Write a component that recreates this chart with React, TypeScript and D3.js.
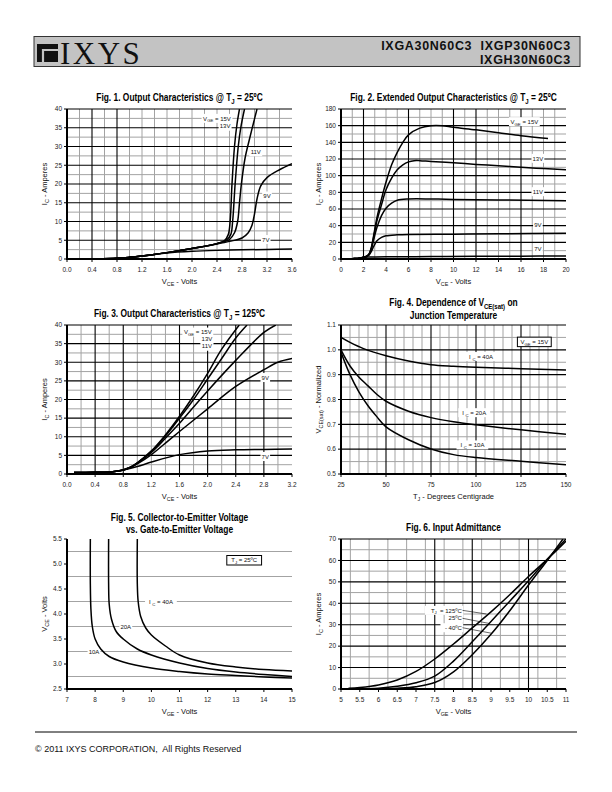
import React from "react";
import * as d3 from "d3";

type Pt = [number, number];
type Seg = { t: string; sub?: boolean };

// ---------------- Fig. 1 : Output characteristics @ 25C ----------------
const f1Vce15: Pt[] = [[0, 0], [0.4, 0.05], [0.8, 0.2], [1.0, 0.45], [1.2, 0.8], [1.6, 1.7], [2.0, 2.8], [2.4, 4.1], [2.52, 4.9], [2.58, 6.5], [2.61, 10], [2.64, 20], [2.68, 30], [2.72, 36], [2.76, 40]];
const f1Vce13: Pt[] = [[0, 0], [0.4, 0.05], [0.8, 0.2], [1.0, 0.45], [1.2, 0.8], [1.6, 1.7], [2.0, 2.8], [2.4, 4.1], [2.55, 5], [2.62, 6.5], [2.65, 10], [2.69, 20], [2.74, 30], [2.78, 35], [2.84, 40]];
const f1Vce11: Pt[] = [[0, 0], [0.4, 0.05], [0.8, 0.2], [1.0, 0.45], [1.2, 0.8], [1.6, 1.7], [2.0, 2.8], [2.4, 4.1], [2.6, 5.2], [2.68, 7], [2.73, 10], [2.76, 15], [2.79, 20], [2.85, 27], [2.92, 32], [2.98, 36], [3.04, 40]];
const f1Vce9: Pt[] = [[0, 0], [0.4, 0.05], [0.8, 0.2], [1.0, 0.45], [1.2, 0.8], [1.6, 1.7], [2.0, 2.8], [2.4, 4.0], [2.6, 4.7], [2.8, 5.6], [2.9, 7], [2.96, 9], [3.0, 12], [3.04, 16], [3.1, 19.5], [3.2, 21.7], [3.4, 23.8], [3.6, 25.4]];
const f1Vce7: Pt[] = [[0, 0], [0.4, 0.05], [0.8, 0.2], [1.0, 0.45], [1.2, 0.8], [1.6, 1.6], [2.0, 2.05], [2.4, 2.3], [2.8, 2.45], [3.2, 2.55], [3.6, 2.65]];
const f1XTicks = [0, 0.4, 0.8, 1.2, 1.6, 2.0, 2.4, 2.8, 3.2, 3.6];
const f1YTicks = [0, 5, 10, 15, 20, 25, 30, 35, 40];

// ---------------- Fig. 2 : Extended output characteristics ----------------
const f2Vge15: Pt[] = [[0.7, 0], [1.2, 0.5], [1.6, 1], [2, 2], [2.3, 3.5], [2.5, 6], [2.7, 14], [2.9, 28], [3.2, 50], [3.6, 72], [4, 92], [4.5, 113], [5, 128], [5.5, 140], [6, 149], [7, 157], [8, 160], [9, 160], [10, 158], [12, 155], [14, 151.5], [16, 148], [18.4, 144.5]];
const f2Vge13: Pt[] = [[0.7, 0], [1.2, 0.5], [1.6, 1], [2, 2], [2.3, 3.5], [2.5, 6], [2.7, 13], [2.9, 26], [3.2, 46], [3.6, 65], [4, 83], [4.5, 97], [5, 107], [5.5, 113], [6, 116.5], [6.5, 118], [7, 118], [8, 117], [10, 115.5], [12, 113.5], [14, 112], [16, 110], [18, 108.5], [20, 107]];
const f2Vge11: Pt[] = [[0.7, 0], [1.2, 0.5], [1.6, 1], [2, 2], [2.3, 3.5], [2.5, 5.5], [2.7, 12], [2.9, 23], [3.2, 38], [3.6, 52], [4, 61], [4.5, 67], [5, 70.5], [6, 72], [8, 72], [10, 71.5], [14, 70.8], [20, 70]];
const f2Vge9: Pt[] = [[0.7, 0], [1.2, 0.5], [1.6, 1], [2, 2], [2.3, 3.5], [2.5, 5], [2.7, 9], [2.9, 15], [3.2, 22], [3.6, 26], [4, 27.8], [5, 29], [6, 29.5], [10, 29.8], [14, 30.2], [20, 31]];
const f2Vge7: Pt[] = [[0.7, 0], [1.2, 0.5], [1.6, 1], [2, 1.8], [2.4, 2.3], [3, 2.5], [4, 2.6], [8, 2.9], [12, 3.2], [16, 3.4], [20, 3.6]];
const f2XTicks = [0, 2, 4, 6, 8, 10, 12, 14, 16, 18, 20];
const f2YTicks = [0, 20, 40, 60, 80, 100, 120, 140, 160, 180];

// ---------------- Fig. 3 : Output characteristics @ 125C ----------------
const f3Vge15: Pt[] = [[0.1, 0.4], [0.4, 0.45], [0.6, 0.55], [0.7, 0.75], [0.8, 1.1], [0.9, 1.8], [1.0, 3], [1.2, 6.2], [1.4, 10.5], [1.6, 15.5], [1.8, 21], [2.0, 27], [2.2, 33.5], [2.45, 40]];
const f3Vge13: Pt[] = [[0.1, 0.4], [0.4, 0.45], [0.6, 0.55], [0.7, 0.75], [0.8, 1.1], [0.9, 1.8], [1.0, 3], [1.2, 6], [1.4, 10.2], [1.6, 15], [1.8, 20], [2.0, 25.5], [2.2, 31], [2.4, 36.5], [2.56, 40]];
const f3Vge11: Pt[] = [[0.1, 0.4], [0.4, 0.45], [0.6, 0.55], [0.7, 0.75], [0.8, 1.1], [0.9, 1.75], [1.0, 2.9], [1.2, 5.8], [1.4, 9.6], [1.6, 13.6], [1.8, 18], [2.0, 22.3], [2.4, 30.5], [2.8, 38], [2.97, 40]];
const f3Vge9: Pt[] = [[0.1, 0.4], [0.4, 0.45], [0.6, 0.55], [0.7, 0.75], [0.8, 1.1], [0.9, 1.7], [1.0, 2.7], [1.2, 5.2], [1.4, 8.3], [1.6, 11.4], [2.0, 17.5], [2.4, 23.5], [2.8, 28], [3.0, 30], [3.2, 31]];
const f3Vge7: Pt[] = [[0.1, 0.4], [0.4, 0.45], [0.6, 0.55], [0.7, 0.75], [0.8, 1.05], [1.0, 2], [1.2, 3.2], [1.6, 5.2], [2.0, 6.2], [2.4, 6.5], [2.8, 6.6], [3.2, 6.7]];
const f3XTicks = [0, 0.4, 0.8, 1.2, 1.6, 2.0, 2.4, 2.8, 3.2];
const f3YTicks = [0, 5, 10, 15, 20, 25, 30, 35, 40];

// ---------------- Fig. 4 : VCE(sat) vs junction temperature ----------------
const f4Ic40: Pt[] = [[25, 1.05], [30, 1.03], [37.5, 1.005], [50, 0.976], [62.5, 0.955], [75, 0.94], [87.5, 0.934], [100, 0.93], [125, 0.924], [150, 0.919]];
const f4Ic20: Pt[] = [[25, 1.0], [30, 0.935], [35, 0.89], [40, 0.855], [45, 0.82], [50, 0.793], [62.5, 0.753], [75, 0.727], [87.5, 0.71], [100, 0.698], [125, 0.678], [150, 0.66]];
const f4Ic10: Pt[] = [[25, 0.99], [30, 0.9], [35, 0.83], [40, 0.775], [45, 0.73], [50, 0.69], [62.5, 0.638], [75, 0.601], [87.5, 0.578], [100, 0.566], [125, 0.551], [150, 0.537]];
const f4XTicks = [25, 50, 75, 100, 125, 150];
const f4YTicks = [0.5, 0.6, 0.7, 0.8, 0.9, 1.0, 1.1];

// ---------------- Fig. 5 : VCE vs VGE ----------------
const f5Ic10: Pt[] = [[7.83, 5.5], [7.83, 4.6], [7.85, 4.1], [7.9, 3.75], [8.0, 3.5], [8.2, 3.3], [8.5, 3.15], [9, 3.04], [10, 2.92], [11, 2.85], [12, 2.8], [13, 2.77], [14, 2.74], [15, 2.72]];
const f5Ic20: Pt[] = [[8.48, 5.5], [8.48, 4.6], [8.5, 4.2], [8.58, 3.9], [8.75, 3.65], [9, 3.5], [9.5, 3.3], [10, 3.18], [11, 3.02], [12, 2.91], [13, 2.84], [14, 2.79], [15, 2.75]];
const f5Ic40: Pt[] = [[9.5, 5.5], [9.5, 4.6], [9.53, 4.25], [9.62, 3.95], [9.8, 3.72], [10, 3.58], [10.5, 3.36], [11, 3.18], [12, 3.02], [13, 2.94], [14, 2.89], [15, 2.86]];
const f5XTicks = [7, 8, 9, 10, 11, 12, 13, 14, 15];
const f5YTicks = [2.5, 3.0, 3.5, 4.0, 4.5, 5.0, 5.5];

// ---------------- Fig. 6 : Input admittance ----------------
const f6T125: Pt[] = [[5.2, 0.3], [5.5, 0.7], [6, 1.9], [6.5, 4.2], [7, 8.2], [7.5, 14], [8, 21], [8.5, 28.5], [9, 36], [9.5, 44], [10, 52.5], [10.5, 60.5], [11, 69]];
const f6T25: Pt[] = [[5.5, 0.1], [6, 0.4], [6.5, 1.3], [7, 2.9], [7.5, 6], [8, 13], [8.5, 22], [9, 31.5], [9.5, 41], [10, 50.5], [10.5, 60.5], [11, 70]];
const f6Tm40: Pt[] = [[6, 0.1], [6.5, 0.4], [7, 1.1], [7.5, 3], [8, 8], [8.5, 16], [9, 25.5], [9.5, 36.5], [10, 48.5], [10.5, 60], [10.92, 70]];
const f6XTicks = [5, 5.5, 6, 6.5, 7, 7.5, 8, 8.5, 9, 9.5, 10, 10.5, 11];
const f6YTicks = [0, 10, 20, 30, 40, 50, 60, 70];

// ------------------------------------------------------------------
const SANS = "'Liberation Sans', Arial, Helvetica, sans-serif";

const range = (a: number, b: number, s: number) => {
  const out: number[] = [];
  for (let v = a; v <= b + 1e-9; v += s) out.push(Math.round(v * 1000) / 1000);
  return out;
};
const without = (arr: number[], ex: number[]) => arr.filter((v) => !ex.some((e) => Math.abs(e - v) < 1e-6));

function Rich(props: {
  segs: Seg[]; x: number; y: number; size: number; anchor?: string; bold?: boolean;
  transform?: string; font?: string; fill?: string;
}) {
  const { segs, x, y, size, anchor = "start", bold, transform, font = SANS, fill = "#111" } = props;
  let shifted = false;
  const parts = segs.map((s, i) => {
    let dy = 0;
    if (s.sub && !shifted) { dy = size * 0.3; shifted = true; }
    else if (!s.sub && shifted) { dy = -size * 0.3; shifted = false; }
    return (
      <tspan key={i} dy={dy || undefined} fontSize={s.sub ? size * 0.72 : size}>{s.t}</tspan>
    );
  });
  return (
    <text x={x} y={y} textAnchor={anchor as any} fontSize={size} fontFamily={font}
      fontWeight={bold ? "bold" : "normal"} fill={fill} transform={transform}
      style={{ whiteSpace: "pre" }}>{parts}</text>
  );
}

type Label = { x: number; y: number; segs: Seg[]; anchor?: "start" | "middle" | "end"; bg?: boolean; box?: boolean };

type ChartProps = {
  id: string;
  left: number; top: number; width: number; height: number;
  xDomain: [number, number]; yDomain: [number, number];
  xTicks: number[]; yTicks: number[];
  xFmt: (v: number) => string; yFmt: (v: number) => string;
  xMinor: number[]; xMajor: number[]; yMinor: number[]; yMajor: number[];
  topLine: boolean;
  series: Pt[][];
  labels: Label[];
  leaders?: Pt[][];
  title: Seg[][]; titleY: number[];
  xTitle: Seg[]; yTitle: Seg[];
};

function segLen(segs: Seg[], size: number) {
  return segs.reduce((a, s) => a + s.t.length * (s.sub ? 0.72 : 1) * size * 0.55, 0);
}

function Chart(p: ChartProps) {
  const x = d3.scaleLinear().domain(p.xDomain).range([p.left, p.left + p.width]);
  const y = d3.scaleLinear().domain(p.yDomain).range([p.top + p.height, p.top]);
  const line = d3.line<Pt>().x((d) => x(d[0])).y((d) => y(d[1])).curve(d3.curveCatmullRom.alpha(0.5));
  const bottom = p.top + p.height;
  const right = p.left + p.width;
  const cx = p.left + p.width / 2;
  const ls = 6;
  const gray = "#a3a3a3";
  return (
    <g>
      <defs>
        <clipPath id={p.id}>
          <rect x={p.left} y={p.top} width={p.width} height={p.height} />
        </clipPath>
      </defs>
      {p.title.map((segs, i) => (
        <Rich key={i} segs={segs} x={0} y={0} size={10.5} anchor="middle" bold fill="#000"
          transform={`translate(${cx},${p.titleY[i]}) scale(0.8,1)`} />
      ))}
      {/* grid */}
      {p.xMinor.map((v) => (
        <line key={"xm" + v} x1={x(v)} x2={x(v)} y1={p.top} y2={bottom} stroke={gray} strokeWidth={1} />
      ))}
      {p.yMinor.map((v) => (
        <line key={"ym" + v} x1={p.left} x2={right} y1={y(v)} y2={y(v)} stroke={gray} strokeWidth={1} />
      ))}
      {p.xMajor.map((v) => (
        <line key={"xM" + v} x1={x(v)} x2={x(v)} y1={p.top} y2={bottom} stroke="#000" strokeWidth={1.1} />
      ))}
      {p.yMajor.map((v) => (
        <line key={"yM" + v} x1={p.left} x2={right} y1={y(v)} y2={y(v)} stroke="#000" strokeWidth={1.1} />
      ))}
      {p.topLine && <line x1={p.left} x2={right} y1={p.top} y2={p.top} stroke="#000" strokeWidth={1.1} />}
      {/* label backgrounds */}
      {p.labels.map((l, i) => {
        if (!l.bg && !l.box) return null;
        const w = segLen(l.segs, ls) + (l.box ? 6 : 3);
        const px = x(l.x);
        const x0 = l.anchor === "start" ? px - 1.5 : l.anchor === "end" ? px - w + 1.5 : px - w / 2;
        return (
          <rect key={"bg" + i} x={x0} y={y(l.y) - 4.5} width={w} height={l.box ? 9.5 : 9} fill="#fff"
            stroke={l.box ? "#000" : "none"} strokeWidth={1} />
        );
      })}
      {(p.leaders || []).map((ld, i) => (
        <path key={"ld" + i} d={d3.line<Pt>().x((d) => x(d[0])).y((d) => y(d[1]))(ld) || ""} stroke="#000" strokeWidth={0.6} fill="none" />
      ))}
      {/* curves */}
      <g clipPath={`url(#${p.id})`}>
        {p.series.map((s, i) => (
          <path key={"s" + i} d={line(s) || ""} fill="none" stroke="#000" strokeWidth={1.5} strokeLinejoin="round" />
        ))}
      </g>
      {/* axes */}
      <line x1={p.left} x2={p.left} y1={p.top} y2={bottom + 1} stroke="#000" strokeWidth={2} />
      <line x1={p.left - 1} x2={right} y1={bottom} y2={bottom} stroke="#000" strokeWidth={2} />
      {p.xTicks.map((v) => (
        <g key={"xt" + v}>
          <line x1={x(v)} x2={x(v)} y1={bottom} y2={bottom + 3} stroke="#000" strokeWidth={1} />
          <text x={x(v)} y={bottom + 13} textAnchor="middle" fontSize={6.5} fontFamily={SANS} fill="#222">{p.xFmt(v)}</text>
        </g>
      ))}
      {p.yTicks.map((v) => (
        <g key={"yt" + v}>
          <line x1={p.left - 3} x2={p.left} y1={y(v)} y2={y(v)} stroke="#000" strokeWidth={1} />
          <text x={p.left - 5} y={y(v) + 2.3} textAnchor="end" fontSize={6.5} fontFamily={SANS} fill="#222">{p.yFmt(v)}</text>
        </g>
      ))}
      <Rich segs={p.xTitle} x={cx} y={bottom + 25} size={7.5} anchor="middle" />
      <Rich segs={p.yTitle} x={0} y={0} size={7.5} anchor="middle"
        transform={`translate(${p.left - 20},${p.top + p.height / 2}) rotate(-90)`} />
      {/* label texts */}
      {p.labels.map((l, i) => (
        <Rich key={"lt" + i} segs={l.segs} x={x(l.x)} y={y(l.y) + 2.2} size={ls} anchor={l.anchor ?? "middle"} />
      ))}
    </g>
  );
}

const f1 = (v: number) => v.toFixed(1);
const f0 = (v: number) => String(v);

export default function App() {
  const vce: Seg[] = [{ t: "V" }, { t: "CE", sub: true }, { t: " - Volts" }];
  const vge: Seg[] = [{ t: "V" }, { t: "GE", sub: true }, { t: " - Volts" }];
  const ic: Seg[] = [{ t: "I" }, { t: "C", sub: true }, { t: " - Amperes" }];
  const vgeLbl: Seg[] = [{ t: "V" }, { t: "GE", sub: true }, { t: " = 15V" }];
  const L = 67, R = 341, W = 225;
  return (
    <svg width={612} height={792} viewBox="0 0 612 792"
      style={{ position: "absolute", left: 0, top: 0, background: "#fff" }}>
      <rect x={0} y={0} width={612} height={792} fill="#fff" />
      {/* header */}
      <rect x={34} y={36.5} width={546} height={30} fill="#c3c3c3" stroke="#333" strokeWidth={1} />
      <rect x={37} y={44} width={21} height={18} fill="#111" />
      <path d="M43,62 V50 H58" stroke="#c3c3c3" strokeWidth={2.2} fill="none" />
      <text x={60} y={63.5} fontSize={31} fontFamily="'Liberation Serif', 'Times New Roman', serif" fill="#111" letterSpacing={2.5}>IXYS</text>
      <text x={571} y={50} fontSize={12.5} fontWeight="bold" fontFamily={SANS} textAnchor="end" fill="#111" letterSpacing={0.7} style={{ whiteSpace: "pre" }}>IXGA30N60C3  IXGP30N60C3</text>
      <text x={571} y={63.5} fontSize={12.5} fontWeight="bold" fontFamily={SANS} textAnchor="end" fill="#111" letterSpacing={0.7}>IXGH30N60C3</text>

      {/* Fig 1 */}
      <Chart id="c1" left={L} top={109} width={W} height={150} xDomain={[0, 3.6]} yDomain={[0, 40]}
        xTicks={f1XTicks} yTicks={f1YTicks} xFmt={f1} yFmt={f0}
        xMinor={without(range(0.2, 3.4, 0.2), [0.4, 0.8])} xMajor={[0.4, 0.8]}
        yMinor={range(2.5, 37.5, 5)} yMajor={range(5, 35, 5)} topLine
        series={[f1Vce15, f1Vce13, f1Vce11, f1Vce9, f1Vce7]}
        labels={[
          { x: 2.4, y: 37.5, segs: vgeLbl, bg: true },
          { x: 2.53, y: 35.4, segs: [{ t: "13V" }], bg: true },
          { x: 3.02, y: 28.6, segs: [{ t: "11V" }], bg: true },
          { x: 3.2, y: 16.8, segs: [{ t: "9V" }], bg: true },
          { x: 3.18, y: 5.2, segs: [{ t: "7V" }], bg: true },
        ]}
        title={[[{ t: "Fig. 1. Output Characteristics @ T" }, { t: "J", sub: true }, { t: " = 25ºC" }]]} titleY={[100.5]}
        xTitle={vce} yTitle={ic} />

      {/* Fig 2 */}
      <Chart id="c2" left={R} top={109} width={W} height={150} xDomain={[0, 20]} yDomain={[0, 180]}
        xTicks={f2XTicks} yTicks={f2YTicks} xFmt={f0} yFmt={f0}
        xMinor={[1, 3, 4, 5, 7, 8, 9, 11, 13, 14, 15, 17, 18, 19]} xMajor={[2, 6, 10, 12, 16]}
        yMinor={range(10, 170, 20)} yMajor={range(20, 160, 20)} topLine
        series={[f2Vge15, f2Vge13, f2Vge11, f2Vge9, f2Vge7]}
        labels={[
          { x: 16.3, y: 164.8, segs: vgeLbl, bg: true },
          { x: 17.5, y: 120.8, segs: [{ t: "13V" }], bg: true },
          { x: 17.5, y: 80.8, segs: [{ t: "11V" }], bg: true },
          { x: 17.5, y: 40.8, segs: [{ t: "9V" }], bg: true },
          { x: 17.5, y: 12.8, segs: [{ t: "7V" }], bg: true },
        ]}
        title={[[{ t: "Fig. 2. Extended Output Characteristics @ T" }, { t: "J", sub: true }, { t: " = 25ºC" }]]} titleY={[100.5]}
        xTitle={vce} yTitle={ic} />

      {/* Fig 3 */}
      <Chart id="c3" left={L} top={325} width={W} height={149} xDomain={[0, 3.2]} yDomain={[0, 40]}
        xTicks={f3XTicks} yTicks={f3YTicks} xFmt={f1} yFmt={f0}
        xMinor={range(0.2, 3.0, 0.4).concat([1.2])} xMajor={[0.4, 0.8, 1.6, 2.0, 2.4, 2.8]}
        yMinor={range(2.5, 37.5, 5)} yMajor={range(5, 35, 5)} topLine
        series={[f3Vge15, f3Vge13, f3Vge11, f3Vge9, f3Vge7]}
        labels={[
          { x: 1.86, y: 38.1, segs: vgeLbl, bg: true },
          { x: 1.99, y: 36.2, segs: [{ t: "13V" }], bg: true },
          { x: 1.99, y: 34.3, segs: [{ t: "11V" }], bg: true },
          { x: 2.82, y: 25.9, segs: [{ t: "9V" }], bg: true },
          { x: 2.82, y: 4.7, segs: [{ t: "7V" }], bg: true },
        ]}
        title={[[{ t: "Fig. 3. Output Characteristics @ T" }, { t: "J", sub: true }, { t: " = 125ºC" }]]} titleY={[316.5]}
        xTitle={vce} yTitle={ic} />

      {/* Fig 4 */}
      <Chart id="c4" left={R} top={325} width={W} height={149} xDomain={[25, 150]} yDomain={[0.5, 1.1]}
        xTicks={f4XTicks} yTicks={f4YTicks} xFmt={f0} yFmt={f1}
        xMinor={without(range(30, 145, 5), [50, 75, 100, 125])} xMajor={[50, 75, 100, 125]}
        yMinor={range(0.55, 1.05, 0.1)} yMajor={range(0.6, 1.0, 0.1)} topLine
        series={[f4Ic40, f4Ic20, f4Ic10]}
        labels={[
          { x: 132.4, y: 1.033, segs: vgeLbl, box: true },
          { x: 102.8, y: 0.973, segs: [{ t: "I " }, { t: "C", sub: true }, { t: " = 40A" }], bg: true },
          { x: 99, y: 0.747, segs: [{ t: "I " }, { t: "C", sub: true }, { t: " = 20A" }], bg: true },
          { x: 98, y: 0.617, segs: [{ t: "I " }, { t: "C", sub: true }, { t: " = 10A" }], bg: true },
        ]}
        title={[[{ t: "Fig. 4. Dependence of V" }, { t: "CE(sat)", sub: true }, { t: " on" }], [{ t: "Junction Temperature" }]]}
        titleY={[305.5, 318.5]}
        xTitle={[{ t: "T" }, { t: "J", sub: true }, { t: " - Degrees Centigrade" }]}
        yTitle={[{ t: "V" }, { t: "CE(sat)", sub: true }, { t: " - Normalized" }]} />

      {/* Fig 5 */}
      <Chart id="c5" left={L} top={539} width={W} height={150} xDomain={[7, 15]} yDomain={[2.5, 5.5]}
        xTicks={f5XTicks} yTicks={f5YTicks} xFmt={f0} yFmt={f1}
        xMinor={[]} xMajor={[]} yMinor={range(2.75, 5.25, 0.5)} yMajor={[]} topLine={false}
        series={[f5Ic10, f5Ic20, f5Ic40]}
        labels={[
          { x: 13.3, y: 5.08, segs: [{ t: "T" }, { t: "J", sub: true }, { t: " = 25ºC" }], box: true },
          { x: 10.34, y: 4.24, segs: [{ t: "I " }, { t: "C", sub: true }, { t: " = 40A" }], bg: true },
          { x: 9.09, y: 3.75, segs: [{ t: "20A" }], bg: true },
          { x: 7.96, y: 3.25, segs: [{ t: "10A" }], bg: true },
        ]}
        title={[[{ t: "Fig. 5. Collector-to-Emitter Voltage" }], [{ t: "vs. Gate-to-Emitter Voltage" }]]}
        titleY={[520.5, 533]}
        xTitle={vge} yTitle={[{ t: "V" }, { t: "CE", sub: true }, { t: " - Volts" }]} />

      {/* Fig 6 */}
      <Chart id="c6" left={R} top={539} width={W} height={150} xDomain={[5, 11]} yDomain={[0, 70]}
        xTicks={f6XTicks} yTicks={f6YTicks} xFmt={f0} yFmt={f0}
        xMinor={range(5.25, 10.75, 0.5)} xMajor={[7.5, 8.5, 10]}
        yMinor={range(5, 65, 10)} yMajor={range(10, 60, 10)} topLine
        series={[f6T125, f6T25, f6Tm40]}
        labels={[
          { x: 8.22, y: 36.7, segs: [{ t: "T" }, { t: "J", sub: true }, { t: "  = 125ºC" }], anchor: "end", bg: true },
          { x: 8.22, y: 33, segs: [{ t: "25ºC" }], anchor: "end", bg: true },
          { x: 8.22, y: 28.6, segs: [{ t: "- 40ºC" }], anchor: "end", bg: true },
        ]}
        leaders={[[[8.24, 36.7], [8.88, 35]], [[8.24, 33], [8.95, 30.6]], [[8.24, 28.6], [9.02, 26]]]}
        title={[[{ t: "Fig. 6. Input Admittance" }]]} titleY={[530.5]}
        xTitle={vge} yTitle={ic} />

      {/* footer */}
      <line x1={35} x2={577} y1={732} y2={732} stroke="#000" strokeWidth={1} />
      <text x={35} y={752} fontSize={9} fontFamily={SANS} fill="#111" style={{ whiteSpace: "pre" }}>© 2011 IXYS CORPORATION,  All Rights Reserved</text>
    </svg>
  );
}
